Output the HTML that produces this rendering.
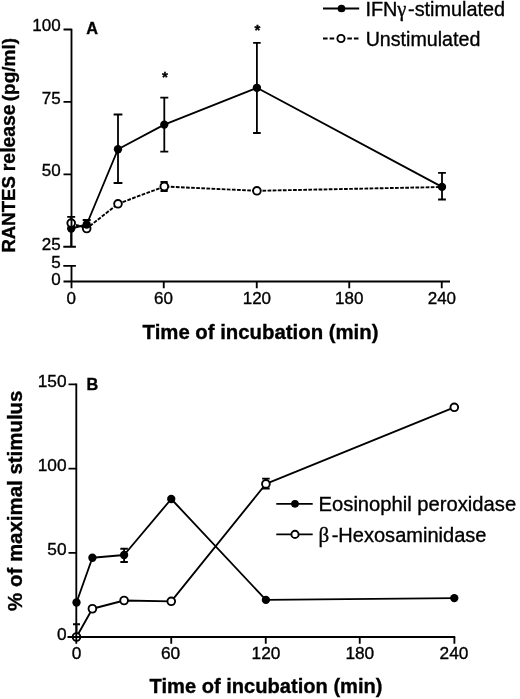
<!DOCTYPE html>
<html>
<head>
<meta charset="utf-8">
<title>Figure</title>
<style>
html,body{margin:0;padding:0;background:#fff;}
body{width:520px;height:699px;overflow:hidden;font-family:"Liberation Sans",sans-serif;}
svg{display:block;filter:grayscale(1) blur(0.4px);}
text{font-family:"Liberation Sans",sans-serif;fill:#000;stroke:#000;stroke-width:0.35px;}
.ax{stroke:#000;stroke-width:1.85;fill:none;}
.ln{stroke:#000;stroke-width:1.85;fill:none;stroke-linejoin:round;}
.dl{stroke:#000;stroke-width:1.9;fill:none;stroke-dasharray:3.7 1.4;}
.eb{stroke:#000;stroke-width:1.8;fill:none;}
.fd{fill:#000;stroke:none;}
.od{fill:#fff;stroke:#000;stroke-width:1.9;}
.tk{font-size:17px;}
.tkb{font-size:17.3px;}
.pl{font-size:16.3px;font-weight:bold;}
.b{font-weight:bold;}
</style>
</head>
<body>
<svg width="520" height="699" viewBox="0 0 520 699">
<rect x="0" y="0" width="520" height="699" fill="#fff"/>

<!-- ================= PANEL A ================= -->
<g id="panelA">
<path class="dl" d="M71.2 223.1L86.7 228.5L118.0 203.8L164.3 186.5L256.9 190.8L442.0 187.0"/>
<path class="ln" d="M71.2 228.5L86.7 224.5L118.0 149.25L164.3 124.6L256.9 87.8L442.0 186.9"/>
<path class="eb" d="M118.0 114.5V183M113.6 114.5H122.4M113.6 183H122.4"/>
<path class="eb" d="M164.3 97.6V151.6M160.3 97.6H168.3M160.3 151.6H168.3"/>
<path class="eb" d="M256.9 42.9V133M253.09999999999997 42.9H260.7M253.09999999999997 133H260.7"/>
<path class="eb" d="M442.0 172.8V199.5M438.1 172.8H445.9M438.1 199.5H445.9"/>
<path class="eb" d="M71.2 216.8V246.7M67.2 216.8H75.2"/>
<path class="eb" d="M86.7 220V228M82.7 220H90.7"/>
<path class="eb" d="M164.1 182V191M160.5 182H167.7M160.5 191H167.7"/>
<circle class="fd" cx="71.2" cy="228.5" r="4.15"/>
<circle class="od" cx="71.2" cy="223.1" r="3.85"/>
<circle class="od" cx="86.7" cy="228.5" r="3.85"/>
<circle class="fd" cx="86.7" cy="224.5" r="4.15"/>
<circle class="fd" cx="118.0" cy="149.25" r="4.15"/>
<circle class="fd" cx="164.3" cy="124.6" r="4.15"/>
<circle class="fd" cx="256.9" cy="87.8" r="4.15"/>
<circle class="fd" cx="442.0" cy="186.9" r="4.15"/>
<circle class="od" cx="118.0" cy="203.8" r="3.85"/>
<circle class="od" cx="164.3" cy="186.5" r="3.85"/>
<circle class="od" cx="256.9" cy="190.8" r="3.85"/>
<path class="ax" d="M71.5 28.7V246.7M71.5 265.8V288.3M63.5 281.5H450"/>
<path class="ax" d="M63.5 29.5H71.5M63.5 101.9H71.5M63.5 174.3H71.5M63.3 246.7H75.9M63.3 265.8H75.9"/>
<path class="ax" d="M163.75 281.5V288.3M256.75 281.5V288.3M349.25 281.5V288.3M441.75 281.5V288.3"/>
<g class="tk" text-anchor="end">
<text x="60.6" y="31.4">100</text>
<text x="60.6" y="103.8">75</text>
<text x="60.6" y="176.2">50</text>
<text x="60.6" y="249.6">25</text>
<text x="60.6" y="268.4">5</text>
<text x="60.6" y="285.2">0</text>
</g>
<g class="tk" text-anchor="middle">
<text x="71.2" y="303.7">0</text>
<text x="163.5" y="303.7">60</text>
<text x="256.9" y="303.7">120</text>
<text x="349.3" y="303.7">180</text>
<text x="441.9" y="303.7">240</text>
</g>
<text class="b" font-size="20.35" x="142.6" y="339.2">Time of incubation (min)</text>
<text class="b" font-size="18.6" transform="translate(15.0 252.6) rotate(-90)">RANTES</text>
<text class="b" font-size="19.4" transform="translate(15.2 171.2) rotate(-90)">release</text>
<text class="b" font-size="19.0" transform="translate(15.0 101.3) rotate(-90)">(pg/ml)</text>
<text class="pl" x="86.2" y="33.6">A</text>
<text font-size="15" font-weight="bold" stroke="none" text-anchor="middle" x="164.8" y="81.5">*</text>
<text font-size="15" font-weight="bold" stroke="none" text-anchor="middle" x="257.5" y="34.5">*</text>
<path class="ln" d="M323 8.5H359.2"/>
<circle class="fd" cx="341.5" cy="8.5" r="3.85"/>
<text font-size="19.85" x="365.4" y="15.8">IFN<tspan font-family="Liberation Serif" font-size="20.5">&#947;</tspan><tspan dx="1.6">-stimulated</tspan></text>
<path class="dl" style="stroke-dasharray:4.6 2" d="M323 38.5H335M347.3 38.5H358.5"/>
<circle class="od" cx="341" cy="38.5" r="3.6"/>
<text font-size="19.65" x="365.7" y="45.8">Unstimulated</text>
</g>

<!-- ================= PANEL B ================= -->
<g id="panelB">
<path class="ln" d="M76.5 637.0L92.4 608.75L124.1 600.5L171.25 601.3L265.9 483.9L454.3 407.3"/>
<path class="ln" d="M76.5 602.5L92.4 557.75L124.1 555.0L171.25 499.0L265.9 599.9L454.3 598.1"/>
<path class="eb" d="M124.1 548.75V562M120.35 548.75H127.85M120.35 562H127.85"/>
<path class="eb" d="M76.5 624.25V637M73.0 624.25H80.0"/>
<path class="eb" d="M265.9 478.7V488.5M262.09999999999997 478.7H269.7M262.09999999999997 488.5H269.7"/>
<circle class="fd" cx="76.5" cy="602.5" r="4.15"/>
<circle class="fd" cx="92.4" cy="557.75" r="4.15"/>
<circle class="fd" cx="124.1" cy="555.0" r="4.15"/>
<circle class="fd" cx="171.25" cy="499.0" r="4.15"/>
<circle class="fd" cx="265.9" cy="599.9" r="4.15"/>
<circle class="fd" cx="454.3" cy="598.1" r="4.15"/>
<circle class="od" cx="76.5" cy="637.0" r="3.85"/>
<circle class="od" cx="92.4" cy="608.75" r="3.85"/>
<circle class="od" cx="124.1" cy="600.5" r="3.85"/>
<circle class="od" cx="171.25" cy="601.3" r="3.85"/>
<circle class="od" cx="265.9" cy="483.9" r="3.85"/>
<circle class="od" cx="454.3" cy="407.3" r="3.85"/>
<path class="ax" d="M76.3 383.6V643.75M67.5 637H455.2"/>
<path class="ax" d="M68.5 384.4H76.3M68.5 468.65H76.3M68.5 552.9H76.3"/>
<path class="ax" d="M171.25 637V643.75M265.75 637V643.75M359.75 637V643.75M454.4 637V643.75"/>
<g class="tkb" text-anchor="end">
<text x="66.6" y="386.9">150</text>
<text x="66.6" y="471.1">100</text>
<text x="66.6" y="555.4">50</text>
<text x="66.6" y="640.2">0</text>
</g>
<g class="tkb" text-anchor="middle">
<text x="76.5" y="658.6">0</text>
<text x="170.6" y="658.6">60</text>
<text x="266" y="658.6">120</text>
<text x="359.8" y="658.6">180</text>
<text x="454" y="658.6">240</text>
</g>
<text class="b" font-size="20.1" x="149.6" y="692.5">Time of incubation (min)</text>
<text class="b" font-size="20.45" transform="translate(21.7 610.9) rotate(-90)">% of maximal stimulus</text>
<text class="pl" x="86.5" y="389.8">B</text>
<path class="ln" d="M276.3 503.8H312.7"/>
<circle class="fd" cx="295" cy="503.8" r="3.85"/>
<text font-size="20.2" x="318.6" y="510.5">Eosinophil peroxidase</text>
<path class="ln" d="M276.3 534.4H312.7"/>
<circle class="od" cx="295" cy="534.4" r="3.6"/>
<text font-size="20.05" x="318.6" y="541.6"><tspan font-family="Liberation Serif" font-size="21">&#946;</tspan><tspan dx="2.4">-Hexosaminidase</tspan></text>
</g>
</svg>
</body>
</html>
